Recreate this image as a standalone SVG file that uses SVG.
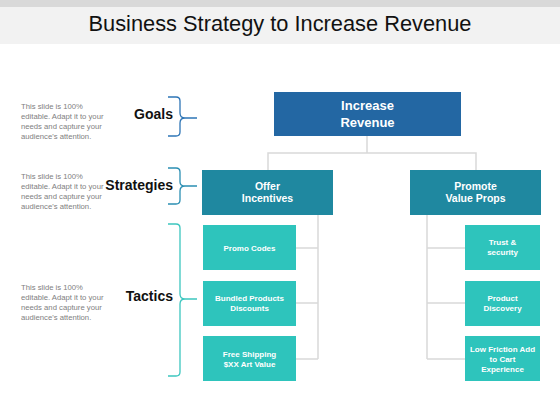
<svg xmlns="http://www.w3.org/2000/svg" width="560" height="420" viewBox="0 0 560 420">
<style>
.desc{font-family:"Liberation Sans",Arial,sans-serif;font-size:7.7px;fill:#808080}
.lvl{font-family:"Liberation Sans",Arial,sans-serif;font-size:14px;font-weight:bold;fill:#111;text-anchor:end}
.bt{font-family:"Liberation Sans",Arial,sans-serif;font-weight:bold;fill:#fff;text-anchor:middle}
.conn{fill:none;stroke:#d9d9d9;stroke-width:1.5}
.br{fill:none;stroke-width:1.3}
</style>
<rect x="0" y="0" width="560" height="420" fill="#fff"/>
<rect x="0" y="0" width="560" height="44" fill="#f2f2f2"/>
<rect x="0" y="0" width="560" height="7" fill="#d9d9d9"/>
<text x="280" y="31" font-family="Liberation Sans,Arial,sans-serif" font-size="21.8" text-anchor="middle" fill="#111">Business Strategy to Increase Revenue</text>

<g id="connectors">
<path class="conn" d="M367 136V153M268 170V153H476V170"/>
<path class="conn" d="M318 215V359M296 248H318M296 303H318M296 359H318"/>
<path class="conn" d="M427 215V359M427 248H465M427 303H465M427 359H465"/>
</g>

<g id="goals">
<text class="desc"><tspan x="21" y="109">This slide is 100%</tspan><tspan x="21" y="119">editable. Adapt it to your</tspan><tspan x="21" y="129">needs and capture your</tspan><tspan x="21" y="139">audience's attention.</tspan></text>
<text class="lvl" x="173" y="119">Goals</text>
<path class="br" stroke="#2e75b6" d="M168 97H176Q180 97 180 101V113Q180 118 185 118H197M185 118Q180 118 180 123V132Q180 136 176 136H168"/>
</g>
<g id="strategies">
<text class="desc"><tspan x="21" y="179">This slide is 100%</tspan><tspan x="21" y="189">editable. Adapt it to your</tspan><tspan x="21" y="199">needs and capture your</tspan><tspan x="21" y="209">audience's attention.</tspan></text>
<text class="lvl" x="173" y="190">Strategies</text>
<path class="br" stroke="#2b8fb3" d="M168 168H176Q180 168 180 172V182Q180 186 185 186H197M185 186Q180 186 180 191V200Q180 204 176 204H168"/>
</g>
<g id="tactics">
<text class="desc"><tspan x="21" y="290">This slide is 100%</tspan><tspan x="21" y="300">editable. Adapt it to your</tspan><tspan x="21" y="310">needs and capture your</tspan><tspan x="21" y="320">audience's attention.</tspan></text>
<text class="lvl" x="173" y="301">Tactics</text>
<path class="br" stroke="#3cc6bf" d="M168 224H176Q180 224 180 228V294Q180 299 185 299H197M185 299Q180 299 180 304V372Q180 376 176 376H168"/>
</g>

<g id="increase-revenue">
<rect x="274" y="92" width="187" height="44" fill="#2367a3"/>
<text class="bt" font-size="13"><tspan x="367.5" y="110">Increase</tspan><tspan x="367.5" y="127">Revenue</tspan></text>
</g>
<g id="offer-incentives">
<rect x="202" y="170" width="131" height="45" fill="#1f88a0"/>
<text class="bt" font-size="10.5"><tspan x="267.5" y="190">Offer</tspan><tspan x="267.5" y="202">Incentives</tspan></text>
</g>
<g id="promote-value-props">
<rect x="410" y="170" width="131" height="45" fill="#1f88a0"/>
<text class="bt" font-size="10.5"><tspan x="475.5" y="190">Promote</tspan><tspan x="475.5" y="202">Value Props</tspan></text>
</g>

<g id="promo-codes">
<rect x="203" y="225" width="93" height="45" fill="#2ec4bc"/>
<text class="bt" font-size="8"><tspan x="249.5" y="251">Promo Codes</tspan></text>
</g>
<g id="bundled">
<rect x="203" y="281" width="93" height="45" fill="#2ec4bc"/>
<text class="bt" font-size="8"><tspan x="249.5" y="301">Bundled Products</tspan><tspan x="249.5" y="311">Discounts</tspan></text>
</g>
<g id="free-shipping">
<rect x="203" y="336" width="93" height="45" fill="#2ec4bc"/>
<text class="bt" font-size="8"><tspan x="249.5" y="357">Free Shipping</tspan><tspan x="249.5" y="367">$XX Art Value</tspan></text>
</g>
<g id="trust">
<rect x="465" y="225" width="75" height="45" fill="#2ec4bc"/>
<text class="bt" font-size="8"><tspan x="502.5" y="245">Trust &amp;</tspan><tspan x="502.5" y="255">security</tspan></text>
</g>
<g id="product-discovery">
<rect x="465" y="281" width="75" height="45" fill="#2ec4bc"/>
<text class="bt" font-size="8"><tspan x="502.5" y="301">Product</tspan><tspan x="502.5" y="311">Discovery</tspan></text>
</g>
<g id="low-friction">
<rect x="465" y="336" width="75" height="45" fill="#2ec4bc"/>
<text class="bt" font-size="8"><tspan x="502.5" y="352">Low Friction Add</tspan><tspan x="502.5" y="362">to Cart</tspan><tspan x="502.5" y="372">Experience</tspan></text>
</g>
</svg>
